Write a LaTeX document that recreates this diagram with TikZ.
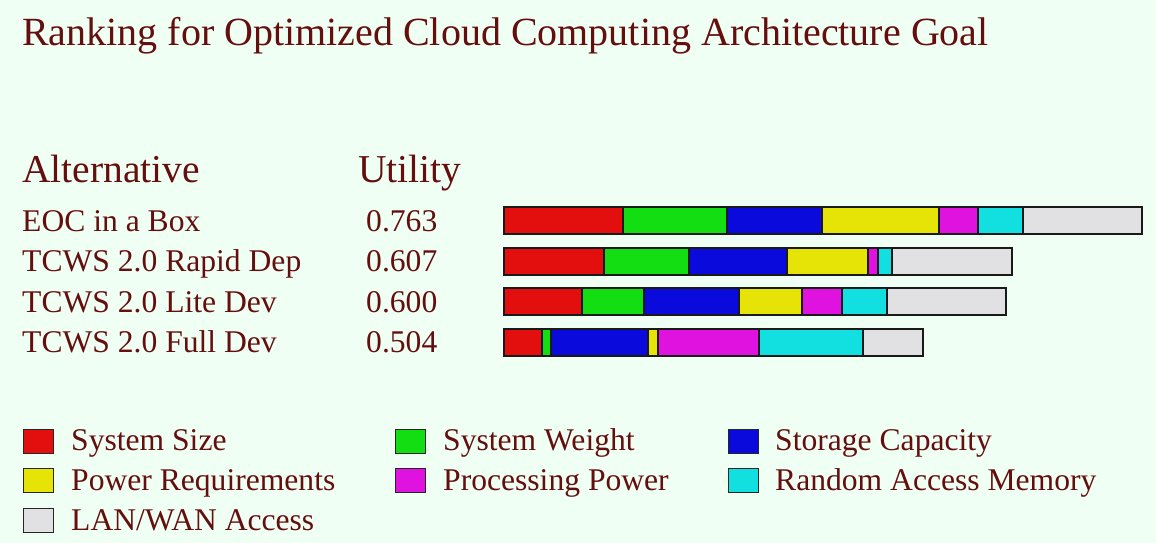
\documentclass[tikz,border=0pt]{standalone}
\usepackage{fontspec}
\setmainfont{Liberation Serif}
\definecolor{bg}{HTML}{F0FFF3}
\definecolor{ink}{HTML}{640E0E}
\definecolor{cSize}{HTML}{E30E0E}
\definecolor{cWeight}{HTML}{12DE12}
\definecolor{cStorage}{HTML}{0A0ADC}
\definecolor{cPower}{HTML}{E6E306}
\definecolor{cProc}{HTML}{E012E0}
\definecolor{cRam}{HTML}{12E0E0}
\definecolor{cLan}{HTML}{E1E1E3}
\tikzset{
  txt/.style={text=ink, inner sep=0pt, anchor=base west},
  big/.style={txt, font=\fontsize{39.5}{39.5}\selectfont},
  body/.style={txt, font=\fontsize{31.6}{31.6}\selectfont},
  seg/.style={draw=black!90, line width=1.6pt},
  keybox/.style={draw=black!85, line width=1.4pt, minimum width=30pt, minimum height=24pt, inner sep=0pt, anchor=north west},
}
% one stacked bar: top edge, then the eight segment boundaries
\newcommand{\stackbar}[9]{%
  \filldraw[seg, fill=cSize]    (#2,#1) rectangle (#3,#1+27);
  \filldraw[seg, fill=cWeight]  (#3,#1) rectangle (#4,#1+27);
  \filldraw[seg, fill=cStorage] (#4,#1) rectangle (#5,#1+27);
  \filldraw[seg, fill=cPower]   (#5,#1) rectangle (#6,#1+27);
  \filldraw[seg, fill=cProc]    (#6,#1) rectangle (#7,#1+27);
  \filldraw[seg, fill=cRam]     (#7,#1) rectangle (#8,#1+27);
  \filldraw[seg, fill=cLan]     (#8,#1) rectangle (#9,#1+27);
}
\begin{document}
\begin{tikzpicture}[x=1pt, y=-1pt]
  \fill[bg] (0,0) rectangle (1156,543);
  \useasboundingbox (0,0) rectangle (1156,543);

  \node[txt, font=\fontsize{40}{40}\selectfont] (title) at (22,46)
    {Ranking for Optimized Cloud Computing Architecture Goal};

  \node[big] (halt) at (22,182) {Alternative};
  \node[big] (hutil) at (358,182) {Utility};

  \node[body] (a1) at (22,231) {EOC in a Box};
  \node[body] (a2) at (22,271) {TCWS 2.0 Rapid Dep};
  \node[body] (a3) at (22,312) {TCWS 2.0 Lite Dev};
  \node[body] (a4) at (22,352) {TCWS 2.0 Full Dev};

  \node[body] (u1) at (366,231) {0.763};
  \node[body] (u2) at (366,271) {0.607};
  \node[body] (u3) at (366,312) {0.600};
  \node[body] (u4) at (366,352) {0.504};

  \stackbar{207}{504}{623}{727}{822}{939}{978}{1023}{1142}
  \stackbar{248}{504}{604}{689}{787}{868}{878}{892}{1012}
  \stackbar{288}{504}{582}{644}{739}{802}{842}{887}{1006}
  \stackbar{329}{504}{542}{551}{648}{658}{759}{863}{923}

  % legend
  \node[keybox, fill=cSize]    (kSize)    at (23,429) {};
  \node[keybox, fill=cWeight]  (kWeight)  at (395,429) {};
  \node[keybox, fill=cStorage] (kStorage) at (728,429) {};
  \node[keybox, fill=cPower]   (kPower)   at (23,468) {};
  \node[keybox, fill=cProc]    (kProc)    at (395,468) {};
  \node[keybox, fill=cRam]     (kRam)     at (728,468) {};
  \node[keybox, fill=cLan]     (kLan)     at (23,508) {};

  \node[body] (lSize)    at (71,450)  {System Size};
  \node[body] (lWeight)  at (443,450) {System Weight};
  \node[body] (lStorage) at (775,450) {Storage Capacity};
  \node[body] (lPower)   at (71,490)  {Power Requirements};
  \node[body] (lProc)    at (443,490) {Processing Power};
  \node[body] (lRam)     at (775,490) {Random Access Memory};
  \node[body] (lLan)     at (71,530)  {LAN/WAN Access};
\end{tikzpicture}
\end{document}
